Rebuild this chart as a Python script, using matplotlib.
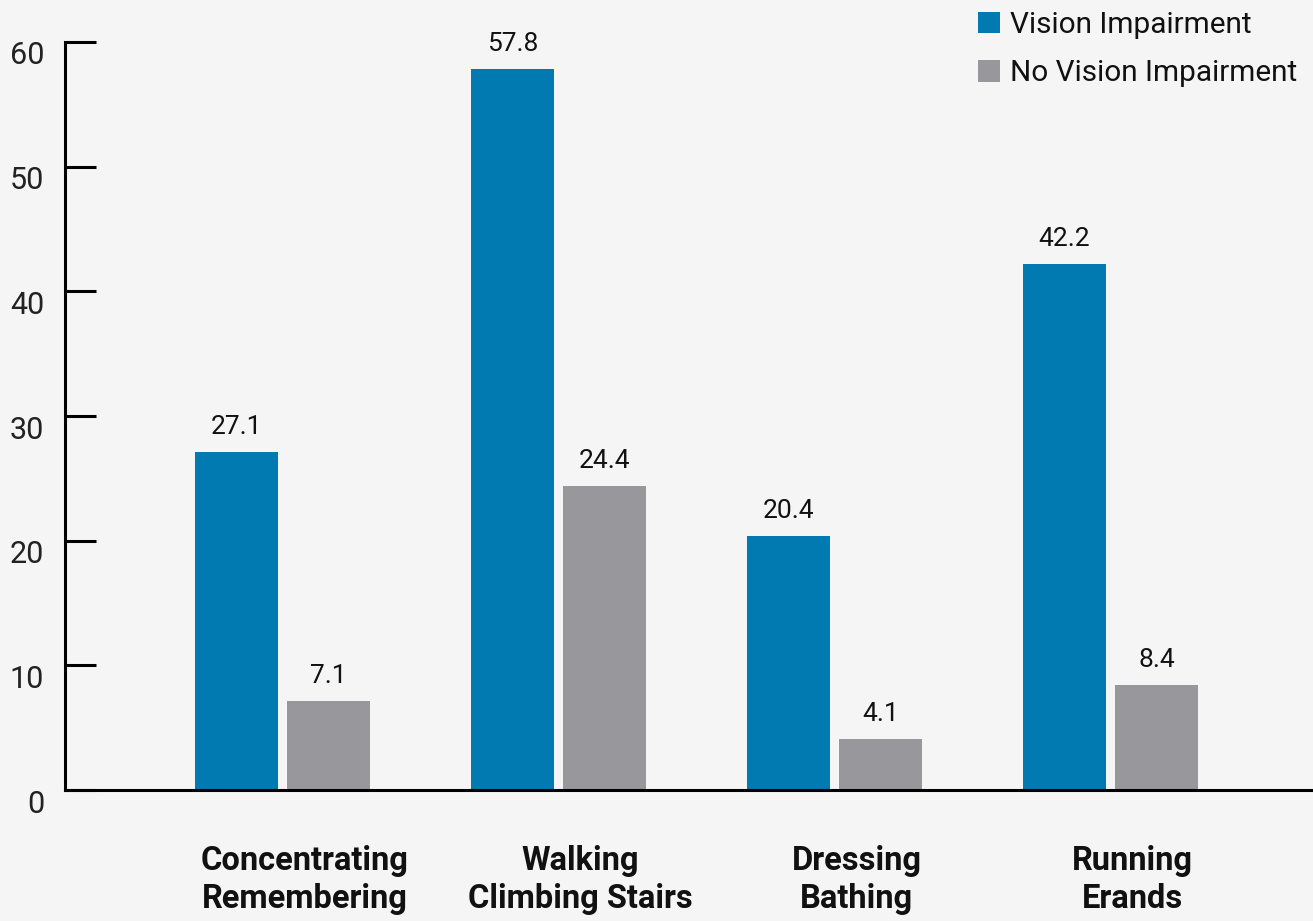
import matplotlib.pyplot as plt
import matplotlib.transforms as mtransforms
import numpy as np

# data
categories = ["Concentrating\nRemembering", "Walking\nClimbing Stairs",
              "Dressing\nBathing", "Running\nErands"]
vision = [27.1, 57.8, 20.4, 42.2]
no_vision = [7.1, 24.4, 4.1, 8.4]
series_names = ["Vision Impairment", "No Vision Impairment"]
yticks = [0, 10, 20, 30, 40, 50, 60]

BLUE = "#007AB0"
GRAY = "#98979C"
BG = "#F5F5F5"

plt.rcParams['font.family'] = ['Roboto', 'DejaVu Sans']

W, H = 1313, 921
fig = plt.figure(figsize=(W / 100, H / 100), dpi=100, facecolor=BG)
ax = fig.add_axes([65 / W, 1 - 790 / H, (W - 65) / W, (790 - 42) / H])
ax.set_facecolor(BG)

x = np.arange(len(categories))
width = 0.30
off = 0.167
bars1 = ax.bar(x - off, vision, width, color=BLUE, label=series_names[0])
bars2 = ax.bar(x + off, no_vision, width, color=GRAY, label=series_names[1])

# value labels above bars
for bars, vals in ((bars1, vision), (bars2, no_vision)):
    for b, v in zip(bars, vals):
        ax.annotate(f"{v}", (b.get_x() + b.get_width() / 2, v),
                    xytext=(0, 13), textcoords="offset pixels",
                    ha="center", va="bottom", fontsize=19, color="#111111")

ax.set_xlim(-0.788, 3.734)
ax.set_ylim(0, 60)
ax.set_yticks(yticks)
ax.set_xticks([])

for s in ("top", "right"):
    ax.spines[s].set_visible(False)
ax.spines["left"].set_linewidth(2.2)
ax.spines["bottom"].set_linewidth(2.2)
ax.tick_params(axis="y", direction="in", length=22, width=2.2, pad=15,
               labelsize=22, labelcolor="#222222")
# tick labels sit a little below their ticks in the original
shift = mtransforms.ScaledTranslation(0, -11 / 100, fig.dpi_scale_trans)
for lab in ax.get_yticklabels():
    lab.set_transform(lab.get_transform() + shift)

# category labels, slightly right of the group centre like the original
for xi, cat in zip(x, categories):
    ax.text(xi + 0.08, -90 / 748, cat, transform=ax.get_xaxis_transform(),
            ha="center", va="center", fontsize=23.5, fontweight="bold",
            linespacing=1.24, color="#111111")

leg = fig.legend(loc="upper right", bbox_to_anchor=(1 - 4 / W, 1 + 1 / H),
                 frameon=False, fontsize=21.4, handlelength=0.74,
                 handleheight=0.74, handletextpad=0.34, labelspacing=0.69,
                 borderpad=0.0, borderaxespad=0.4)
for t in leg.get_texts():
    t.set_color("#111111")

fig.savefig("out.png", dpi=100, facecolor=BG)
